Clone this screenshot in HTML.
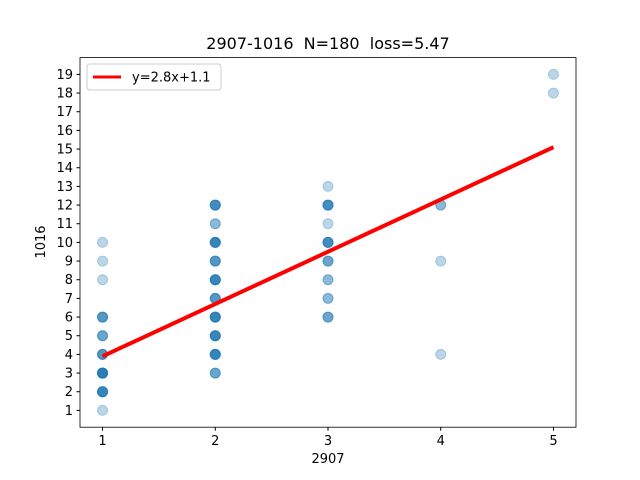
<!DOCTYPE html>
<html><head><meta charset="utf-8">
<style>
body{margin:0;background:#fff;}
svg{display:block;font-family:"DejaVu Sans","Liberation Sans",sans-serif;}
</style></head>
<body>
<svg id="chart" width="640" height="480" viewBox="0 0 640 480">
<rect x="0" y="0" width="640" height="480" fill="#fff"/>
<text x="328" y="49" font-size="16" text-anchor="middle" fill="#000" style="white-space:pre">2907-1016  N=180  loss=5.47</text>
<g id="points"></g>
<g id="fit"></g>
<g id="xticks"></g>
<g id="yticks"></g>
<rect x="80" y="57.6" width="496" height="369.6" fill="none" stroke="#000" stroke-width="0.8"/>
<text x="328" y="463" font-size="13" text-anchor="middle">2907</text>
<text x="45" y="242" font-size="13" text-anchor="middle" transform="rotate(-90 45 242)">1016</text>
<g>
<rect x="87" y="64" width="134" height="26" rx="3" fill="#fff" fill-opacity="0.8" stroke="#ccc"/>
<line x1="93" y1="77" x2="121" y2="77" stroke="red" stroke-width="3"/>
<text x="132" y="81.5" font-size="13">y=2.8x+1.1</text>
</g>
</svg>
<script>
const xs=[1,1,1,1,1,1,1,1,1, 2,2,2,2,2,2,2,2,2,2, 3,3,3,3,3,3,3,3, 4,4,4, 5,5];
const ys=[1,2,3,4,5,6,8,9,10, 3,4,5,6,7,8,9,10,11,12, 6,7,8,9,10,11,12,13, 4,9,12, 18,19];
const counts=[1,6,8,4,3,4,1,1,1, 3,6,6,6,4,6,4,6,2,5, 3,2,2,3,5,1,5,1, 1,1,2, 1,1];
const slope=2.8, intercept=1.1;
const xTicks=[1,2,3,4,5];
const yTicks=[1,2,3,4,5,6,7,8,9,10,11,12,13,14,15,16,17,18,19];
const L=80,R=576,T=57.6,B=427.2;
const xmin=0.8,xmax=5.2,ymin=0.1,ymax=19.9;
const sx=v=>L+(v-xmin)/(xmax-xmin)*(R-L);
const sy=v=>B-(v-ymin)/(ymax-ymin)*(B-T);
const NS='http://www.w3.org/2000/svg';
const pg=document.getElementById('points');
for(let i=0;i<xs.length;i++){
  for(let k=0;k<counts[i];k++){
    const c=document.createElementNS(NS,'circle');
    c.setAttribute('cx',sx(xs[i]));c.setAttribute('cy',sy(ys[i]));c.setAttribute('r',5);
    c.setAttribute('fill','#1f77b4');c.setAttribute('fill-opacity',0.3);
    c.setAttribute('stroke','#1f77b4');c.setAttribute('stroke-opacity',0.3);
    
    
    pg.appendChild(c);
  }
}
const fl=document.createElementNS(NS,'line');
fl.setAttribute('x1',sx(1));fl.setAttribute('y1',sy(slope*1+intercept));
fl.setAttribute('x2',sx(5));fl.setAttribute('y2',sy(slope*5+intercept));
fl.setAttribute('stroke','red');fl.setAttribute('stroke-width',4);


document.getElementById('fit').appendChild(fl);
const xg=document.getElementById('xticks');
xTicks.forEach(t=>{
  const l=document.createElementNS(NS,'line');
  l.setAttribute('x1',sx(t));l.setAttribute('x2',sx(t));l.setAttribute('y1',B);l.setAttribute('y2',B+3.5);l.setAttribute('stroke','#000');
  
  
  xg.appendChild(l);
  const tx=document.createElementNS(NS,'text');
  tx.setAttribute('x',sx(t));tx.setAttribute('y',B+18);tx.setAttribute('font-size',13);tx.setAttribute('text-anchor','middle');
  tx.textContent=t;
  
  
  xg.appendChild(tx);
});
const yg=document.getElementById('yticks');
yTicks.forEach(t=>{
  const l=document.createElementNS(NS,'line');
  l.setAttribute('x1',L-3.5);l.setAttribute('x2',L);l.setAttribute('y1',sy(t));l.setAttribute('y2',sy(t));l.setAttribute('stroke','#000');
  
  
  yg.appendChild(l);
  const tx=document.createElementNS(NS,'text');
  tx.setAttribute('x',L-7);tx.setAttribute('y',sy(t)+4.5);tx.setAttribute('font-size',13);tx.setAttribute('text-anchor','end');
  tx.textContent=t;
  
  
  yg.appendChild(tx);
});
</script>
</body></html>
